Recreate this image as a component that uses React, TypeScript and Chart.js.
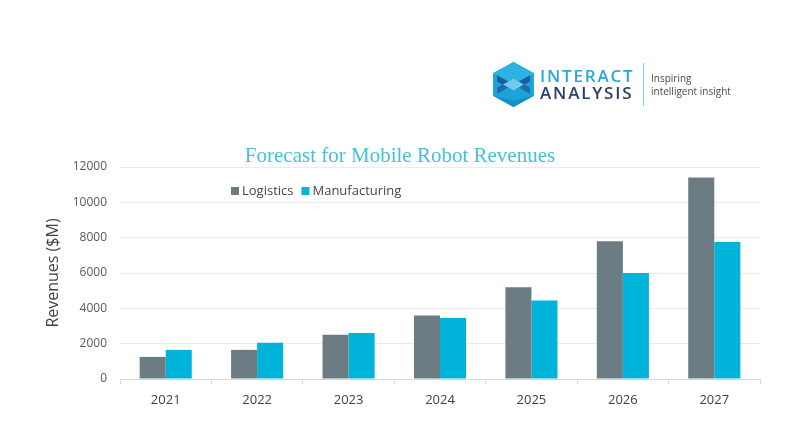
import React, { useEffect, useRef } from "react";
import { Chart, registerables } from "chart.js";

Chart.register(...registerables);

const years = ["2021", "2022", "2023", "2024", "2025", "2026", "2027"];
const logistics = [1250, 1650, 2500, 3600, 5200, 7800, 11400];
const manufacturing = [1650, 2050, 2600, 3450, 4450, 6000, 7750];
const seriesNames = ["Logistics", "Manufacturing"];
const seriesColors = ["#6b7c83", "#00b3d8"];
const chartTitle = "Forecast for Mobile Robot Revenues";
const yAxisTitle = "Revenues ($M)";

const overlayPlugin = {
  id: "overlay",
  afterDraw(chart: any) {
    const ctx = chart.ctx;
    ctx.save();
    // title
    ctx.font = '21px "Liberation Serif", serif';
    ctx.fillStyle = "#45c0d7";
    ctx.textAlign = "center";
    ctx.textBaseline = "middle";
    ctx.fillText(chartTitle, 400, 156);
    // legend
    ctx.font = '13px "Open Sans", sans-serif';
    ctx.textAlign = "left";
    let x = 231;
    const y = 191;
    seriesNames.forEach((name, i) => {
      ctx.fillStyle = seriesColors[i];
      ctx.fillRect(x, y - 4, 8, 8);
      x += 11;
      ctx.fillStyle = "#454545";
      ctx.fillText(name, x, y);
      x += ctx.measureText(name).width + 8;
    });
    ctx.restore();
  },
};

function Logo() {
  return (
    <div style={{ position: "absolute", left: 493, top: 62, width: 260, height: 46 }}>
      <svg width="41" height="45" viewBox="0 0 40 44" style={{ position: "absolute", left: 0, top: 0 }}>
        <polygon points="20,0 40,11 40,33 20,44 0,33 0,11" fill="#1ca4d8" />
        <polygon points="20,0 40,11 20,22 0,11" fill="#2bb3e3" />
        <polygon points="4,13 20,22 36,13 36,19 20,28 4,19" fill="#1d5c9c" />
        <polygon points="4,25 20,16 36,25 36,31 20,22 4,31" fill="#1f6aa8" />
        <polygon points="20,16 30,22 20,28 10,22" fill="#6fcbee" />
        <polygon points="0,33 20,44 40,33 20,38" fill="#158fc6" />
      </svg>
      <div
        style={{
          position: "absolute",
          left: 47,
          top: 4,
          font: '600 17px "Open Sans", sans-serif',
          letterSpacing: "1.8px",
          color: "#2aa8d5",
          lineHeight: "20px",
          whiteSpace: "nowrap",
        }}
      >
        INTERACT
      </div>
      <div
        style={{
          position: "absolute",
          left: 47,
          top: 21,
          font: '600 17px "Open Sans", sans-serif',
          letterSpacing: "1.8px",
          color: "#2d3f63",
          lineHeight: "20px",
          whiteSpace: "nowrap",
        }}
      >
        ANALYSIS
      </div>
      <div style={{ position: "absolute", left: 150, top: 1, width: 1, height: 43, background: "#7fcfe6" }} />
      <div
        style={{
          position: "absolute",
          left: 158,
          top: 10,
          font: '10px "Open Sans", sans-serif',
          color: "#4a4a4a",
          lineHeight: "13px",
          whiteSpace: "nowrap",
        }}
      >
        Inspiring
        <br />
        intelligent insight
      </div>
    </div>
  );
}

export default function App() {
  const canvasRef = useRef<HTMLCanvasElement>(null);

  useEffect(() => {
    const canvas = canvasRef.current;
    if (!canvas) return;
    const chart = new Chart(canvas, {
      type: "bar",
      data: {
        labels: years,
        datasets: [
          {
            label: seriesNames[0],
            data: logistics,
            backgroundColor: seriesColors[0],
            categoryPercentage: 0.57,
            barPercentage: 1.0,
          },
          {
            label: seriesNames[1],
            data: manufacturing,
            backgroundColor: seriesColors[1],
            categoryPercentage: 0.57,
            barPercentage: 1.0,
          },
        ],
      },
      options: {
        responsive: false,
        animation: false,
        layout: { padding: { left: 30, right: 35, top: 167, bottom: 35 } },
        plugins: {
          legend: { display: false },
          title: { display: false },
          tooltip: { enabled: false },
        },
        scales: {
          x: {
            grid: {
              display: true,
              drawOnChartArea: false,
              drawTicks: true,
              tickLength: 5,
              color: "#d9d9d9",
            },
            border: { display: true, color: "#d9d9d9" },
            ticks: {
              padding: 8,
              color: "#404040",
              font: { family: "'Open Sans', sans-serif", size: 13 },
            },
            afterFit(scale: any) {
              scale.height = 30;
            },
          },
          y: {
            min: 0,
            max: 12000,
            ticks: {
              stepSize: 2000,
              padding: 13,
              color: "#595959",
              font: { family: "'Open Sans', sans-serif", size: 12 },
              callback: (value: any) => String(value),
            },
            grid: { color: "#ebebeb", drawTicks: false },
            border: { display: false },
            title: {
              display: true,
              text: yAxisTitle,
              color: "#404040",
              font: { family: "'Open Sans', sans-serif", size: 16 },
              padding: { top: 14, bottom: 0 },
            },
            afterFit(scale: any) {
              scale.width = 90;
            },
          },
        },
      },
      plugins: [overlayPlugin],
    });
    return () => chart.destroy();
  }, []);

  return (
    <div style={{ position: "fixed", left: 0, top: 0, width: 795, height: 444, background: "#ffffff" }}>
      <canvas ref={canvasRef} width={795} height={444} style={{ display: "block" }} />
      <Logo />
    </div>
  );
}
